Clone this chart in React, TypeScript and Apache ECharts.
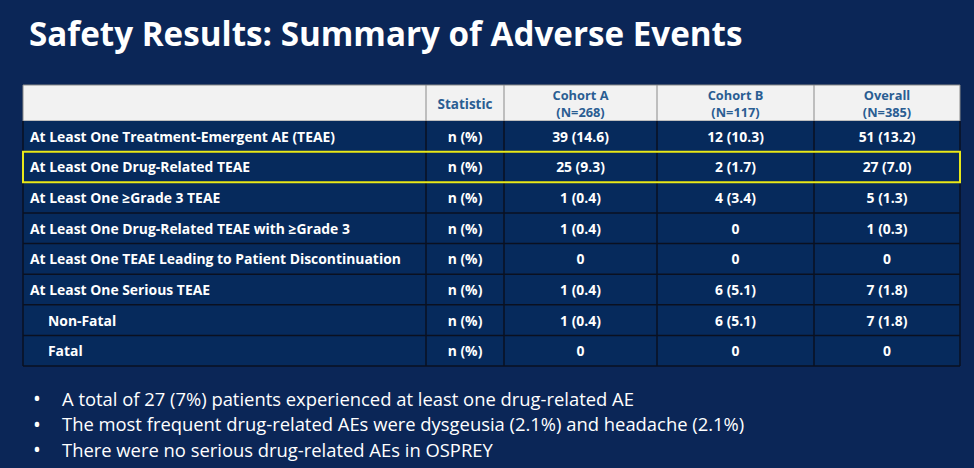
import React, { useEffect, useRef } from "react";
import * as echarts from "echarts";

const title = "Safety Results: Summary of Adverse Events";
const headerLabels = [[""], ["Statistic"], ["Cohort A", "(N=268)"], ["Cohort B", "(N=117)"], ["Overall", "(N=385)"]];
const rowLabels = [
  "At Least One Treatment-Emergent AE (TEAE)",
  "At Least One Drug-Related TEAE",
  "At Least One \u2265Grade 3 TEAE",
  "At Least One Drug-Related TEAE with \u2265Grade 3",
  "At Least One TEAE Leading to Patient Discontinuation",
  "At Least One Serious TEAE",
  "Non-Fatal",
  "Fatal",
];
const rowIndented = [false, false, false, false, false, false, true, true];
const statistic = ["n (%)", "n (%)", "n (%)", "n (%)", "n (%)", "n (%)", "n (%)", "n (%)"];
const cohortA = ["39 (14.6)", "25 (9.3)", "1 (0.4)", "1 (0.4)", "0", "1 (0.4)", "1 (0.4)", "0"];
const cohortB = ["12 (10.3)", "2 (1.7)", "4 (3.4)", "0", "0", "6 (5.1)", "6 (5.1)", "0"];
const overall = ["51 (13.2)", "27 (7.0)", "5 (1.3)", "1 (0.3)", "0", "7 (1.8)", "7 (1.8)", "0"];
const highlightedRow = 1;
const bullets = [
  "A total of 27 (7%) patients experienced at least one drug-related AE",
  "The most frequent drug-related AEs were dysgeusia (2.1%) and headache (2.1%)",
  "There were no serious drug-related AEs in OSPREY",
];

export default function App() {
  const ref = useRef<HTMLDivElement>(null);
  useEffect(() => {
    if (!ref.current) return;
    const chart = echarts.init(ref.current, null, { renderer: "svg" });
    const font = "'Open Sans', Lato, sans-serif";
    const bg = "#0b2657";
    const cellBg = "#062a5c";
    const colX = [23, 426, 504, 657, 814, 960];
    const top = 85;
    const headBottom = 121;
    const rowH = (366 - headBottom) / rowLabels.length;
    const tableBottom = headBottom + rowH * rowLabels.length;
    const els: any[] = [];

    els.push({ type: "rect", shape: { x: 0, y: 0, width: 974, height: 468 }, style: { fill: bg } });
    els.push({
      type: "text", x: 29, y: 33,
      style: { text: title, fill: "#ffffff", fontSize: 33.2, fontWeight: "bold", fontFamily: font, verticalAlign: "middle" },
    });

    // header
    els.push({ type: "rect", shape: { x: colX[0], y: top, width: colX[5] - colX[0], height: headBottom - top }, style: { fill: "#f2f2f2", stroke: "#8a8a8a", lineWidth: 1 } });
    for (let c = 1; c < 5; c++) {
      els.push({ type: "line", shape: { x1: colX[c], y1: top, x2: colX[c], y2: headBottom }, style: { stroke: "#8a8a8a", lineWidth: 1 } });
      const lines = headerLabels[c];
      const mid = (top + headBottom) / 2 + 0.5;
      lines.forEach((t, i) => {
        const y = lines.length === 1 ? mid : mid + (i - 0.5) * 17.2;
        els.push({
          type: "text", x: (colX[c] + colX[c + 1]) / 2, y,
          style: { text: t, fill: "#2a5d92", fontSize: lines.length === 1 ? 13.5 : 12.8, fontWeight: "bold", fontFamily: font, align: "center", verticalAlign: "middle" },
        });
      });
    }

    // body
    els.push({ type: "rect", shape: { x: colX[0], y: headBottom, width: colX[5] - colX[0], height: tableBottom - headBottom }, style: { fill: cellBg } });
    const cols = [statistic, cohortA, cohortB, overall];
    rowLabels.forEach((lab, r) => {
      const y0 = headBottom + r * rowH;
      const cy = y0 + rowH / 2;
      els.push({
        type: "text", x: colX[0] + (rowIndented[r] ? 25 : 7), y: cy,
        style: { text: lab, fill: "#ffffff", fontSize: 13.9, fontWeight: "bold", fontFamily: font, verticalAlign: "middle" },
      });
      cols.forEach((arr, c) => {
        els.push({
          type: "text", x: (colX[c + 1] + colX[c + 2]) / 2, y: cy,
          style: { text: arr[r], fill: "#ffffff", fontSize: 13.9, fontWeight: "bold", fontFamily: font, align: "center", verticalAlign: "middle" },
        });
      });
      if (r > 0) {
        els.push({ type: "line", shape: { x1: colX[0], y1: y0, x2: colX[5], y2: y0 }, style: { stroke: "#0a1020", lineWidth: 1.5 } });
      }
    });
    for (let c = 0; c < 6; c++) {
      els.push({ type: "line", shape: { x1: colX[c], y1: headBottom, x2: colX[c], y2: tableBottom }, style: { stroke: "#0a1020", lineWidth: 1.5 } });
    }
    els.push({ type: "line", shape: { x1: colX[0], y1: tableBottom, x2: colX[5], y2: tableBottom }, style: { stroke: "#0a1020", lineWidth: 1.5 } });

    // highlight
    const hy = headBottom + highlightedRow * rowH;
    els.push({ type: "rect", shape: { x: colX[0], y: hy, width: colX[5] - colX[0], height: rowH }, style: { fill: "none", stroke: "#e8e81a", lineWidth: 2 } });

    // bullets
    bullets.forEach((b, i) => {
      const y = 398 + i * 25.5;
      els.push({ type: "text", x: 37, y, style: { text: "\u2022", fill: "#ffffff", fontSize: 21, fontFamily: font, align: "center", verticalAlign: "middle" } });
      els.push({ type: "text", x: 62, y, style: { text: b, fill: "#ffffff", fontSize: 18.4, fontFamily: font, verticalAlign: "middle" } });
    });

    chart.setOption({ animation: false, graphic: { elements: els } });
    return () => chart.dispose();
  }, []);
  return <div ref={ref} style={{ position: "absolute", left: 0, top: 0, width: 974, height: 468 }} />;
}
